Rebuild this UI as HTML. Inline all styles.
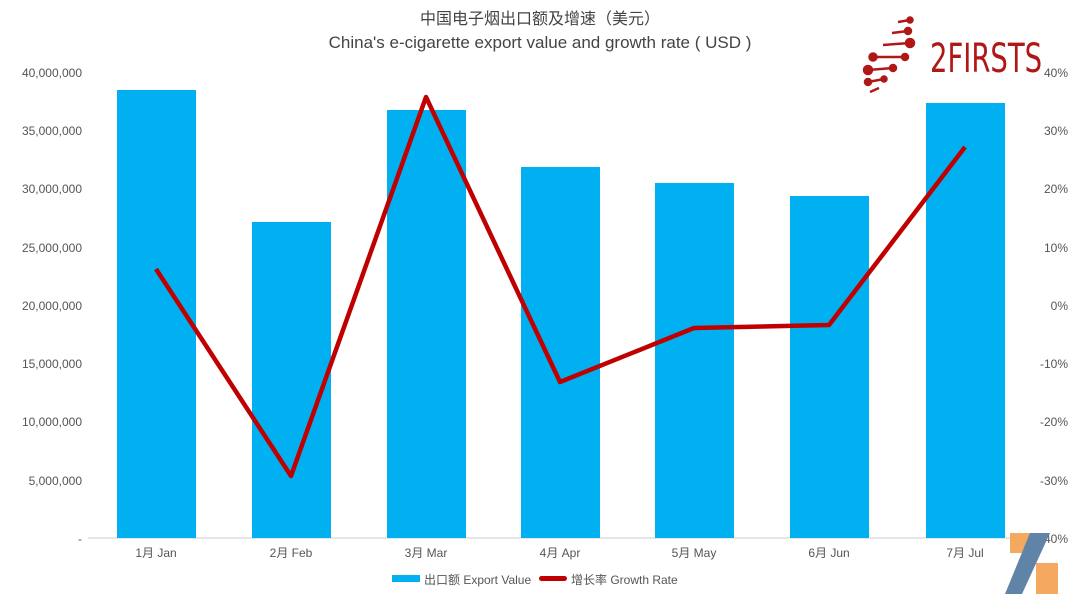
<!DOCTYPE html>
<html><head><meta charset="utf-8"><style>
body{margin:0;background:#fff;width:1080px;height:599px;overflow:hidden;font-family:"Liberation Sans","Noto Sans CJK SC",sans-serif}
</style></head><body>
<svg width="1080" height="599" xmlns="http://www.w3.org/2000/svg" font-family="Liberation Sans, Noto Sans CJK SC, sans-serif">
<text x="540" y="24" text-anchor="middle" font-size="16" fill="#444">中国电子烟出口额及增速（美元）</text>
<text x="540" y="48" text-anchor="middle" font-size="17" fill="#444">China's e-cigarette export value and growth rate ( USD )</text>
<g fill="#555" font-size="12" text-anchor="end">
<text x="82" y="77">40,000,000</text><text x="82" y="135">35,000,000</text><text x="82" y="193">30,000,000</text><text x="82" y="252">25,000,000</text><text x="82" y="310">20,000,000</text><text x="82" y="368">15,000,000</text><text x="82" y="426">10,000,000</text><text x="82" y="485">5,000,000</text><text x="82" y="543">-</text>
</g>
<g fill="#555" font-size="12" text-anchor="end">
<text x="1068" y="77">40%</text><text x="1068" y="135">30%</text><text x="1068" y="193">20%</text><text x="1068" y="252">10%</text><text x="1068" y="310">0%</text><text x="1068" y="368">-10%</text><text x="1068" y="426">-20%</text><text x="1068" y="485">-30%</text><text x="1068" y="543">-40%</text>
</g>
<line x1="88" y1="538" x2="1033" y2="538" stroke="#ccc"/>
<g fill="#00b0f0">
<rect x="117" y="90" width="79" height="448"/>
<rect x="252" y="222" width="79" height="316"/>
<rect x="387" y="110" width="79" height="428"/>
<rect x="521" y="167" width="79" height="371"/>
<rect x="655" y="183" width="79" height="355"/>
<rect x="790" y="196" width="79" height="342"/>
<rect x="926" y="103" width="79" height="435"/>
</g>
<g fill="#555" font-size="12" text-anchor="middle">
<text x="156" y="557">1月 Jan</text><text x="291" y="557">2月 Feb</text><text x="426" y="557">3月 Mar</text><text x="560" y="557">4月 Apr</text><text x="694" y="557">5月 May</text><text x="829" y="557">6月 Jun</text><text x="965" y="557">7月 Jul</text>
</g>
<polyline points="156,269 291,476 426,97 560,382 694,328 829,325 965,147" fill="none" stroke="#c00000" stroke-width="4.5" stroke-linejoin="round"/>
<rect x="392" y="575" width="28" height="7" fill="#00b0f0"/>
<text x="424" y="584" font-size="12" fill="#555">出口额 Export Value</text>
<rect x="539" y="576" width="28" height="5" rx="2.5" fill="#c00000"/>
<text x="571" y="584" font-size="12" fill="#555">增长率 Growth Rate</text>
<g stroke="#b01818" stroke-width="2.5" fill="#b01818">
<line x1="898" y1="22" x2="910" y2="20"/><line x1="892" y1="33" x2="908" y2="31"/><line x1="883" y1="45" x2="910" y2="43"/><line x1="873" y1="57" x2="905" y2="57"/><line x1="868" y1="70" x2="893" y2="68"/><line x1="868" y1="82" x2="884" y2="79"/><line x1="870" y1="92" x2="879" y2="88"/>
<circle cx="910" cy="20" r="2.5"/><circle cx="908" cy="31" r="3"/><circle cx="910" cy="43" r="4"/><circle cx="873" cy="57" r="3.5"/><circle cx="905" cy="57" r="3"/><circle cx="868" cy="70" r="4"/><circle cx="893" cy="68" r="3"/><circle cx="868" cy="82" r="3"/><circle cx="884" cy="79" r="2.5"/>
</g>
<text x="930" y="72" font-size="40" fill="#b01818" font-family="DejaVu Sans Condensed, Liberation Sans Narrow, sans-serif" textLength="112" lengthAdjust="spacingAndGlyphs">2FIRSTS</text>
<polygon points="1010,533 1030,533 1030,553 1010,553" fill="#f4a860"/>
<polygon points="1036,563 1058,563 1058,594 1036,594" fill="#f4a860"/>
<polygon points="1030,533 1050,533 1022,594 1005,594" fill="#5f84a8"/>
</svg>
</body></html>
